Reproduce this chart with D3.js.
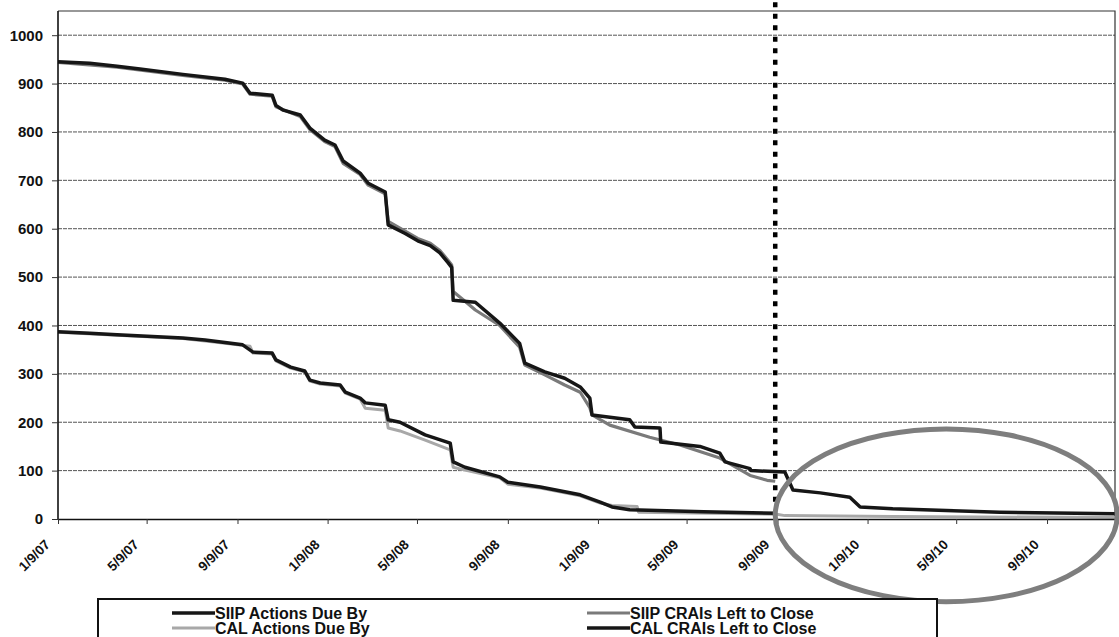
<!DOCTYPE html>
<html><head><meta charset="utf-8">
<script src="https://cdn.jsdelivr.net/npm/d3@7/dist/d3.min.js"></script>
<style>
body{margin:0;background:#fff;}
svg text{font-family:"Liberation Sans",Arial,sans-serif;font-weight:bold;fill:#111;}
</style></head><body>
<svg id="chart" width="1119" height="637"></svg>
<script>
// ---------- DATA ----------
const xTickLabels = ["2007-01-09","2007-05-09","2007-09-09","2008-01-09","2008-05-09","2008-09-09",
  "2009-01-09","2009-05-09","2009-09-09","2010-01-09","2010-05-09","2010-09-09"];
const yTickValues = [0,100,200,300,400,500,600,700,800,900,1000];
const seriesNames = ["SIIP Actions Due By","CAL Actions Due By","SIIP CRAIs Left to Close","CAL CRAIs Left to Close"];

const siipActionsDueBy = [
 ["2007-01-09",945],["2007-02-21",942],["2007-03-30",936],["2007-04-30",930],["2007-06-27",919],
 ["2007-08-23",909],["2007-09-16",901],["2007-09-26",880],["2007-10-26",876],["2007-10-31",855],
 ["2007-11-10",845],["2007-12-03",835],["2007-12-16",808],["2008-01-05",783],["2008-01-19",773],
 ["2008-01-30",740],["2008-02-22",715],["2008-03-04",694],["2008-03-27",676],["2008-03-31",608],
 ["2008-04-23",590],["2008-05-10",575],["2008-05-27",565],["2008-06-09",550],["2008-06-20",530],
 ["2008-06-25",520],["2008-06-27",452],["2008-07-27",448],["2008-08-29",405],["2008-09-25",363],
 ["2008-10-02",322],["2008-10-29",304],["2008-11-25",291],["2008-12-16",273],["2008-12-29",250],
 ["2009-01-01",215],["2009-02-21",205],["2009-02-28",190],["2009-04-03",188],["2009-04-04",159],
 ["2009-05-27",150],["2009-06-23",136],["2009-06-30",118],["2009-08-03",104],["2009-08-04",100],
 ["2009-09-19",97],["2009-09-30",60],["2009-11-06",54],["2009-12-16",45],["2009-12-30",25],
 ["2010-02-12",21],["2010-07-07",14],["2010-12-10",11]
];
const siipCraisLeftToClose = [
 ["2007-01-09",944],["2007-03-30",934],["2007-06-27",917],["2007-08-23",907],["2007-09-16",899],
 ["2007-09-26",878],["2007-10-26",874],["2007-10-31",852],["2007-12-03",832],["2007-12-16",805],
 ["2008-01-05",780],["2008-01-19",770],["2008-01-30",735],["2008-02-22",712],["2008-03-04",690],
 ["2008-03-27",672],["2008-03-31",615],["2008-04-23",595],["2008-05-10",580],["2008-05-27",570],
 ["2008-06-09",555],["2008-06-20",535],["2008-06-25",525],["2008-06-27",470],["2008-07-13",450],
 ["2008-07-27",432],["2008-08-29",400],["2008-09-25",355],["2008-10-02",318],["2008-10-29",298],
 ["2008-11-25",277],["2008-12-16",262],["2008-12-29",230],["2009-01-01",215],["2009-01-25",194],
 ["2009-03-20",169],["2009-04-30",153],["2009-06-23",126],["2009-08-03",90],["2009-08-26",80],
 ["2009-09-06",78]
];
const calActionsDueBy = [
 ["2007-01-09",386],["2007-03-30",380],["2007-06-27",373],["2007-08-23",363],["2007-09-26",357],
 ["2007-09-30",343],["2007-10-26",341],["2007-10-31",327],["2007-11-20",312],["2007-12-09",304],
 ["2007-12-16",285],["2007-12-30",279],["2008-01-26",275],["2008-02-02",260],["2008-02-22",248],
 ["2008-02-29",229],["2008-03-27",225],["2008-03-31",188],["2008-04-16",182],["2008-05-20",163],
 ["2008-06-23",143],["2008-06-27",107],["2008-07-13",101],["2008-08-29",85],["2008-09-09",72],
 ["2008-10-23",64],["2008-12-16",48],["2009-01-12",33],["2009-01-28",28],["2009-03-03",26],
 ["2009-03-05",14],["2009-09-08",10],["2009-09-19",7],["2010-02-12",5],["2010-12-10",3]
];
const calCraisLeftToClose = [
 ["2007-01-09",387],["2007-02-21",384],["2007-03-30",381],["2007-06-27",374],["2007-07-27",370],
 ["2007-08-23",365],["2007-09-16",360],["2007-09-30",345],["2007-10-26",343],["2007-10-31",329],
 ["2007-11-20",314],["2007-12-09",306],["2007-12-16",287],["2007-12-30",281],["2008-01-26",277],
 ["2008-02-02",262],["2008-02-22",250],["2008-02-29",240],["2008-03-27",235],["2008-03-31",205],
 ["2008-04-16",200],["2008-05-20",174],["2008-06-23",157],["2008-06-27",118],["2008-07-13",107],
 ["2008-08-29",87],["2008-09-09",76],["2008-10-23",66],["2008-12-16",50],["2009-01-12",35],
 ["2009-01-28",25],["2009-02-21",19],["2009-06-01",15],["2009-09-08",12]
];
// annotations
const todayDate = "2009-09-06";
const todayLineValues = [1068, 30];
const ellipseDates = ["2009-09-06","2010-12-13"];
const ellipseValues = [186,-171];

// ---------- DRAW ----------
const parse = d3.timeParse("%Y-%m-%d");
const fmt = d3.timeFormat("%-m/%-d/%y");
const svg = d3.select("#chart");

const x = d3.scaleTime().domain([parse("2007-01-09"), parse("2010-12-10")]).range([58,1115]);
const y = d3.scaleLinear().domain([0,1050]).range([519,11]);

// gridlines
svg.append("g").selectAll("line").data(yTickValues.filter(v=>v>0)).join("line")
  .attr("x1",x.range()[0]).attr("x2",x.range()[1])
  .attr("y1",d=>y(d)).attr("y2",d=>y(d))
  .attr("stroke","#555").attr("stroke-width",1).attr("stroke-dasharray","4,1");

// plot border top/right
svg.append("path")
  .attr("d",`M${x.range()[0]},${y(1050)}H${x.range()[1]}V${y(0)}`)
  .attr("fill","none").attr("stroke","#333").attr("stroke-width",1.2);

const line = d3.line().x(d=>x(parse(d[0]))).y(d=>y(d[1]));
const series = [
  {data:calActionsDueBy, color:"#a8a8a8", w:3},
  {data:siipCraisLeftToClose, color:"#7a7a7a", w:3.2},
  {data:siipActionsDueBy, color:"#161616", w:3.5},
  {data:calCraisLeftToClose, color:"#161616", w:3.5}
];
svg.append("g").selectAll("path").data(series).join("path")
  .attr("d",d=>line(d.data)).attr("fill","none")
  .attr("stroke",d=>d.color).attr("stroke-width",d=>d.w).attr("stroke-linejoin","round");

// axes
const yAxis = svg.append("g").attr("transform",`translate(${x.range()[0]},0)`)
  .call(d3.axisLeft(y).tickValues(yTickValues).tickFormat(d3.format("d")).tickSize(6).tickSizeOuter(0).tickPadding(9));
yAxis.select(".domain").attr("stroke","#111").attr("stroke-width",1.6)
  .attr("d",`M0,${y(1050)}V${y(0)}`);
yAxis.selectAll("line").attr("stroke","#333");
yAxis.selectAll("text").style("font-size","15px").style("font-family","'Liberation Sans',Arial,sans-serif").style("font-weight","bold").attr("fill","#111");

const xAxis = svg.append("g").attr("transform",`translate(0,${y(0)})`)
  .call(d3.axisBottom(x).tickValues(xTickLabels.map(parse)).tickFormat(fmt).tickSize(5).tickSizeOuter(0));
xAxis.select(".domain").attr("stroke","#111").attr("stroke-width",1.6);
xAxis.selectAll("line").attr("stroke","#333");
xAxis.selectAll("text")
  .style("font-size","13.5px").style("font-family","'Liberation Sans',Arial,sans-serif").style("font-weight","bold")
  .attr("fill","#111")
  .attr("text-anchor","end").attr("x",0).attr("y",0).attr("dy","0.35em")
  .attr("transform","translate(-11,23) rotate(-45)");

// today dotted line
svg.append("line")
  .attr("x1",x(parse(todayDate))).attr("x2",x(parse(todayDate)))
  .attr("y1",y(todayLineValues[0])).attr("y2",y(todayLineValues[1]))
  .attr("stroke","#000").attr("stroke-width",4.5).attr("stroke-dasharray","5,6.5");

// ellipse annotation
const ex0 = x(parse(ellipseDates[0])), ex1 = x(parse(ellipseDates[1]));
const ey0 = y(ellipseValues[0]), ey1 = y(ellipseValues[1]);
svg.append("ellipse")
  .attr("cx",(ex0+ex1)/2).attr("cy",(ey0+ey1)/2)
  .attr("rx",(ex1-ex0)/2).attr("ry",(ey1-ey0)/2)
  .attr("fill","none").attr("stroke","#7e7e7e").attr("stroke-width",5);

// legend
const lg = svg.append("g");
lg.append("rect").attr("x",98).attr("y",599).attr("width",839).attr("height",60)
  .attr("fill","#fff").attr("stroke","#111").attr("stroke-width",2);
const legendItems = [
  {name:seriesNames[0], s:series[2], col:0, row:0},
  {name:seriesNames[1], s:series[0], col:0, row:1},
  {name:seriesNames[2], s:series[1], col:1, row:0},
  {name:seriesNames[3], s:series[3], col:1, row:1}
];
const colX = [172, 587], rowY = [613, 628];
const li = lg.selectAll("g.item").data(legendItems).join("g")
  .attr("transform",d=>`translate(${colX[d.col]},${rowY[d.row]})`);
li.append("line").attr("x1",0).attr("x2",43).attr("y1",0).attr("y2",0)
  .attr("stroke",d=>d.s.color).attr("stroke-width",d=>d.s.w);
li.append("text").attr("x",43).attr("y",0).attr("dy","0.35em")
  .style("font-size","16px").text(d=>d.name);
</script>
</body></html>
